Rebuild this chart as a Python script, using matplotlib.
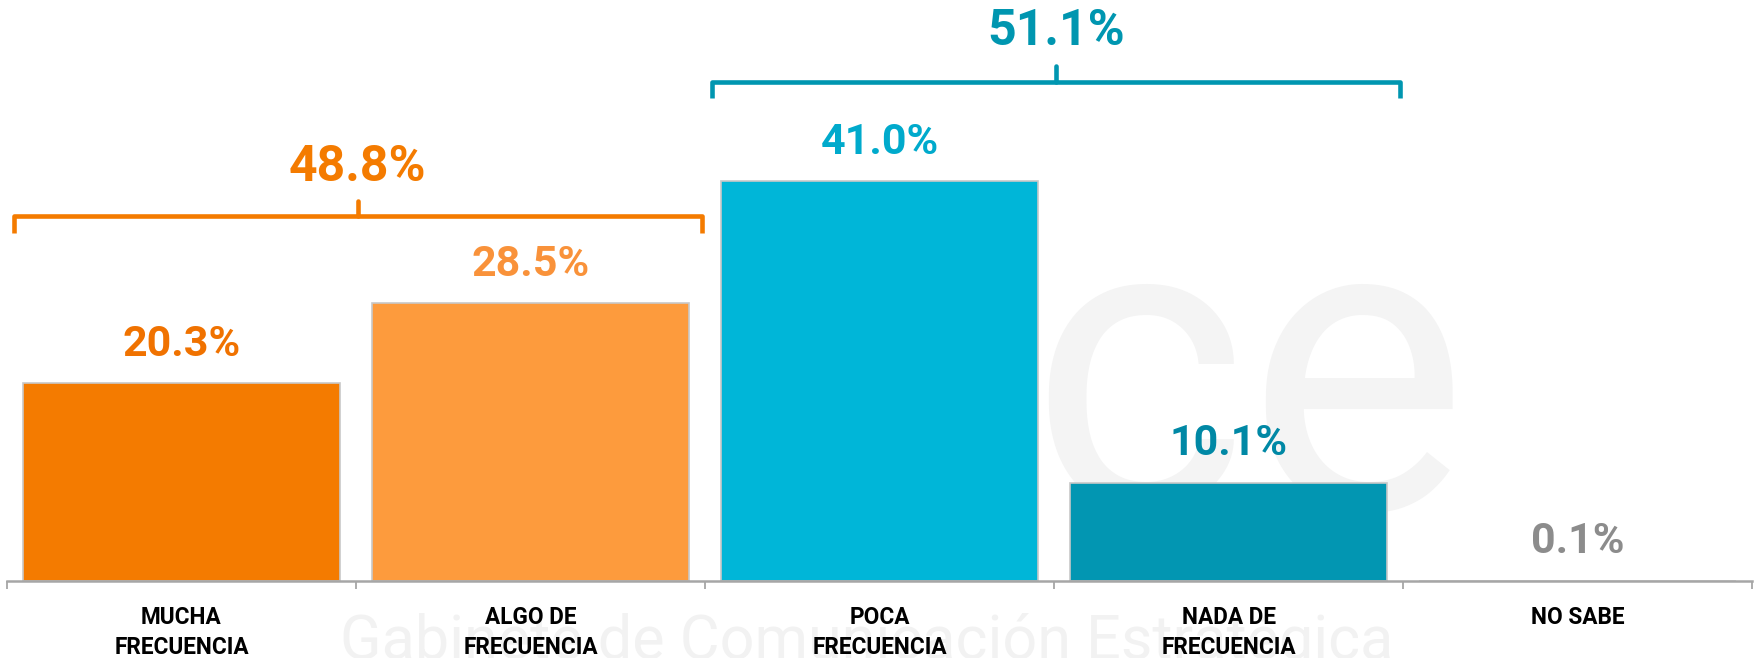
import numpy as np
import matplotlib
matplotlib.use("Agg")
import matplotlib.pyplot as plt

# categories and values
categories = ["MUCHA\nFRECUENCIA", "ALGO DE\nFRECUENCIA", "POCA\nFRECUENCIA",
              "NADA DE\nFRECUENCIA", "NO SABE"]
values = [20.3, 28.5, 41.0, 10.1, 0.1]
value_labels = ["20.3%", "28.5%", "41.0%", "10.1%", "0.1%"]

# grouped totals shown over the brackets
group_totals = [48.8, 51.1]
group_labels = ["48.8%", "51.1%"]
group_spans = [(0, 1), (2, 3)]

bar_colors = ["#F47B00", "#FD9B3D", "#00B6D8", "#0296B2", "#D9D9D9"]
edge_colors = ["#C8C8C8", "#C8C8C8", "#C8C8C8", "#C8C8C8", "none"]
label_colors = ["#F07200", "#F9923A", "#00AACC", "#0088A5", "#8C8C8C"]
group_colors = ["#F47B00", "#0096B0"]

plt.rcParams['font.family'] = ['Roboto', 'DejaVu Sans']

fig = plt.figure(figsize=(17.58, 6.58), dpi=100)
ax = fig.add_axes([7 / 1758, 77 / 658, 1745 / 1758, 581 / 658])

x = np.arange(len(categories))

# faint watermark, kept behind everything else in the axes
ax.text(0.71, 0.40, "ce", fontsize=300, color="#F4F4F4", fontweight="normal",
        ha="center", va="center", transform=fig.transFigure, zorder=0,
        clip_on=False)
ax.text(0.493, 0.025, "Gabinete de Comunicación Estratégica", fontsize=44,
        color="#F2F2F2", ha="center", va="center", transform=fig.transFigure,
        zorder=0, clip_on=False)

ax.bar(x, values, width=0.91, color=bar_colors, edgecolor=edge_colors,
       linewidth=1.2, zorder=2)

# value labels above each bar
for xi, v, lab, c in zip(x, values, value_labels, label_colors):
    ax.annotate(lab, (xi, v), xytext=(0, 19.5), textcoords="offset points",
                ha="center", va="baseline", fontsize=31, fontweight="bold",
                color=c, zorder=3)

# brackets over the grouped bars
bracket_y = [37.4, 51.2]
bracket_drop = 1.7
notch_up = 1.6
total_y = [41.0, 55.0]
for (a, b), yb, tot, lab, c, ty in zip(group_spans, bracket_y, group_totals,
                                       group_labels, group_colors, total_y):
    left = a - 0.48
    right = b + 0.49
    mid = (left + right) / 2
    ax.plot([left, left, right, right], [yb - bracket_drop, yb, yb, yb - bracket_drop],
            color=c, lw=3.3, solid_joinstyle="round", solid_capstyle="butt",
            zorder=3, clip_on=False)
    ax.plot([mid, mid], [yb, yb + notch_up], color=c, lw=3.3,
            solid_capstyle="round", zorder=3, clip_on=False)
    ax.text(mid, ty, lab, ha="center", va="baseline", fontsize=36,
            fontweight="bold", color=c, zorder=3)

ax.set_xlim(-0.5, len(categories) - 0.5)
ax.set_ylim(0, 581 / 9.75)

for s in ["top", "right", "left"]:
    ax.spines[s].set_visible(False)
ax.spines["bottom"].set_color("#A6A6A6")
ax.spines["bottom"].set_linewidth(1.8)
ax.set_yticks([])

ax.set_xticks(x)
ax.set_xticklabels(categories, fontsize=16.3, fontweight="bold",
                   color="black", linespacing=1.4)
ax.tick_params(axis="x", which="major", length=0, pad=18)
ax.set_xticks(np.arange(-0.5, len(categories)), minor=True)
ax.tick_params(axis="x", which="minor", length=6, width=1.3,
               color="#A6A6A6", direction="out")

fig.savefig("out.png", dpi=100, facecolor="white")
